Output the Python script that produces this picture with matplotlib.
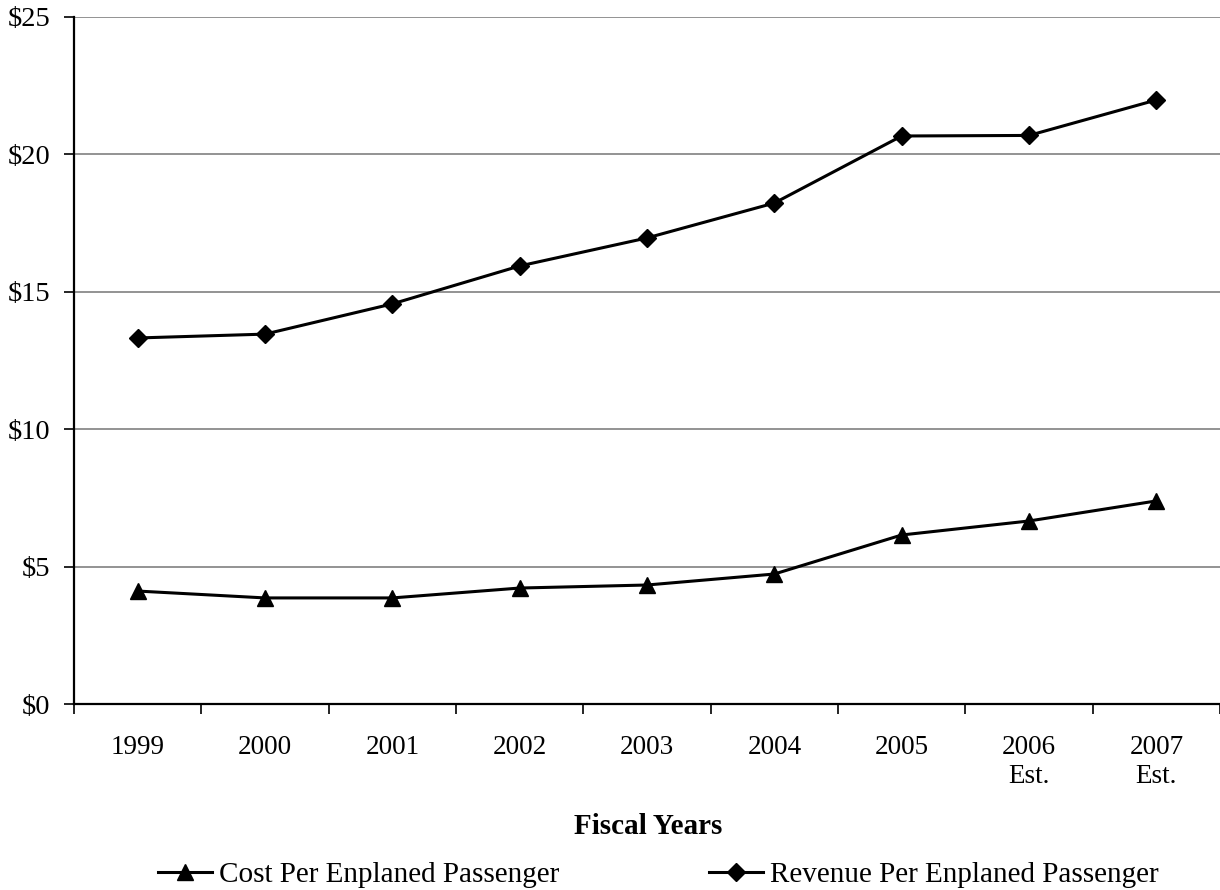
import matplotlib
matplotlib.use("Agg")
import matplotlib.pyplot as plt
from matplotlib.ticker import FuncFormatter, FixedLocator, NullFormatter

plt.rcParams["font.family"] = ["Liberation Serif", "DejaVu Serif"]

years = ["1999", "2000", "2001", "2002", "2003", "2004", "2005", "2006\nEst.", "2007\nEst."]
cost_per_enplanement = [4.11, 3.86, 3.86, 4.22, 4.33, 4.73, 6.15, 6.66, 7.39]
revenue_per_enplanement = [13.32, 13.46, 14.56, 15.94, 16.96, 18.23, 20.67, 20.69, 21.98]
y_ticks = [0, 5, 10, 15, 20, 25]

fig = plt.figure(figsize=(12.2, 8.9), dpi=100)
ax = fig.add_axes([74 / 1220, 1 - 704 / 890, 1 - 74 / 1220, (704 - 17) / 890])

x = list(range(len(years)))
cost_line, = ax.plot(x, cost_per_enplanement, color="black", lw=2.2,
                     marker="^", markersize=12, label="Cost Per Enplaned Passenger",
                     clip_on=False, zorder=3)
rev_line, = ax.plot(x, revenue_per_enplanement, color="black", lw=2.2,
                    marker="D", markersize=9, label="Revenue Per Enplaned Passenger",
                    clip_on=False, zorder=3)

ax.set_xlim(-0.5, len(years) - 0.5)
ax.set_ylim(0, 25)
ax.set_yticks(y_ticks)
ax.yaxis.set_major_formatter(FuncFormatter(lambda v, p: f"${v:.0f}"))
ax.yaxis.grid(True, color="#808080", lw=1.2)
ax.set_axisbelow(True)

# category labels centred under each point, tick marks on category boundaries
ax.set_xticks(x)
ax.set_xticklabels(years, linespacing=1.25)
ax.tick_params(axis="x", which="major", length=0, pad=22, labelsize=19.5)
ax.xaxis.set_minor_locator(FixedLocator([i - 0.5 for i in range(len(years) + 1)]))
ax.xaxis.set_minor_formatter(NullFormatter())
ax.tick_params(axis="x", which="minor", length=7, width=1.2, direction="out")
ax.tick_params(axis="y", length=7, width=1.2, pad=10, labelsize=20.5, direction="out")

for side in ("top", "right"):
    ax.spines[side].set_visible(False)
ax.spines["left"].set_linewidth(1.6)
ax.spines["bottom"].set_linewidth(1.6)

fig.text(648 / 1220, 1 - 827 / 890, "Fiscal Years", ha="center", va="center",
         fontsize=21, fontweight="bold")

common = dict(frameon=False, fontsize=21, handlelength=1.85, handletextpad=0.25,
              borderpad=0, borderaxespad=0, loc="center left")
leg1 = fig.legend(handles=[cost_line], bbox_to_anchor=(158 / 1220, 1 - 875 / 890), **common)
leg2 = fig.legend(handles=[rev_line], bbox_to_anchor=(709 / 1220, 1 - 875 / 890), **common)

fig.savefig("out.png", dpi=100)
